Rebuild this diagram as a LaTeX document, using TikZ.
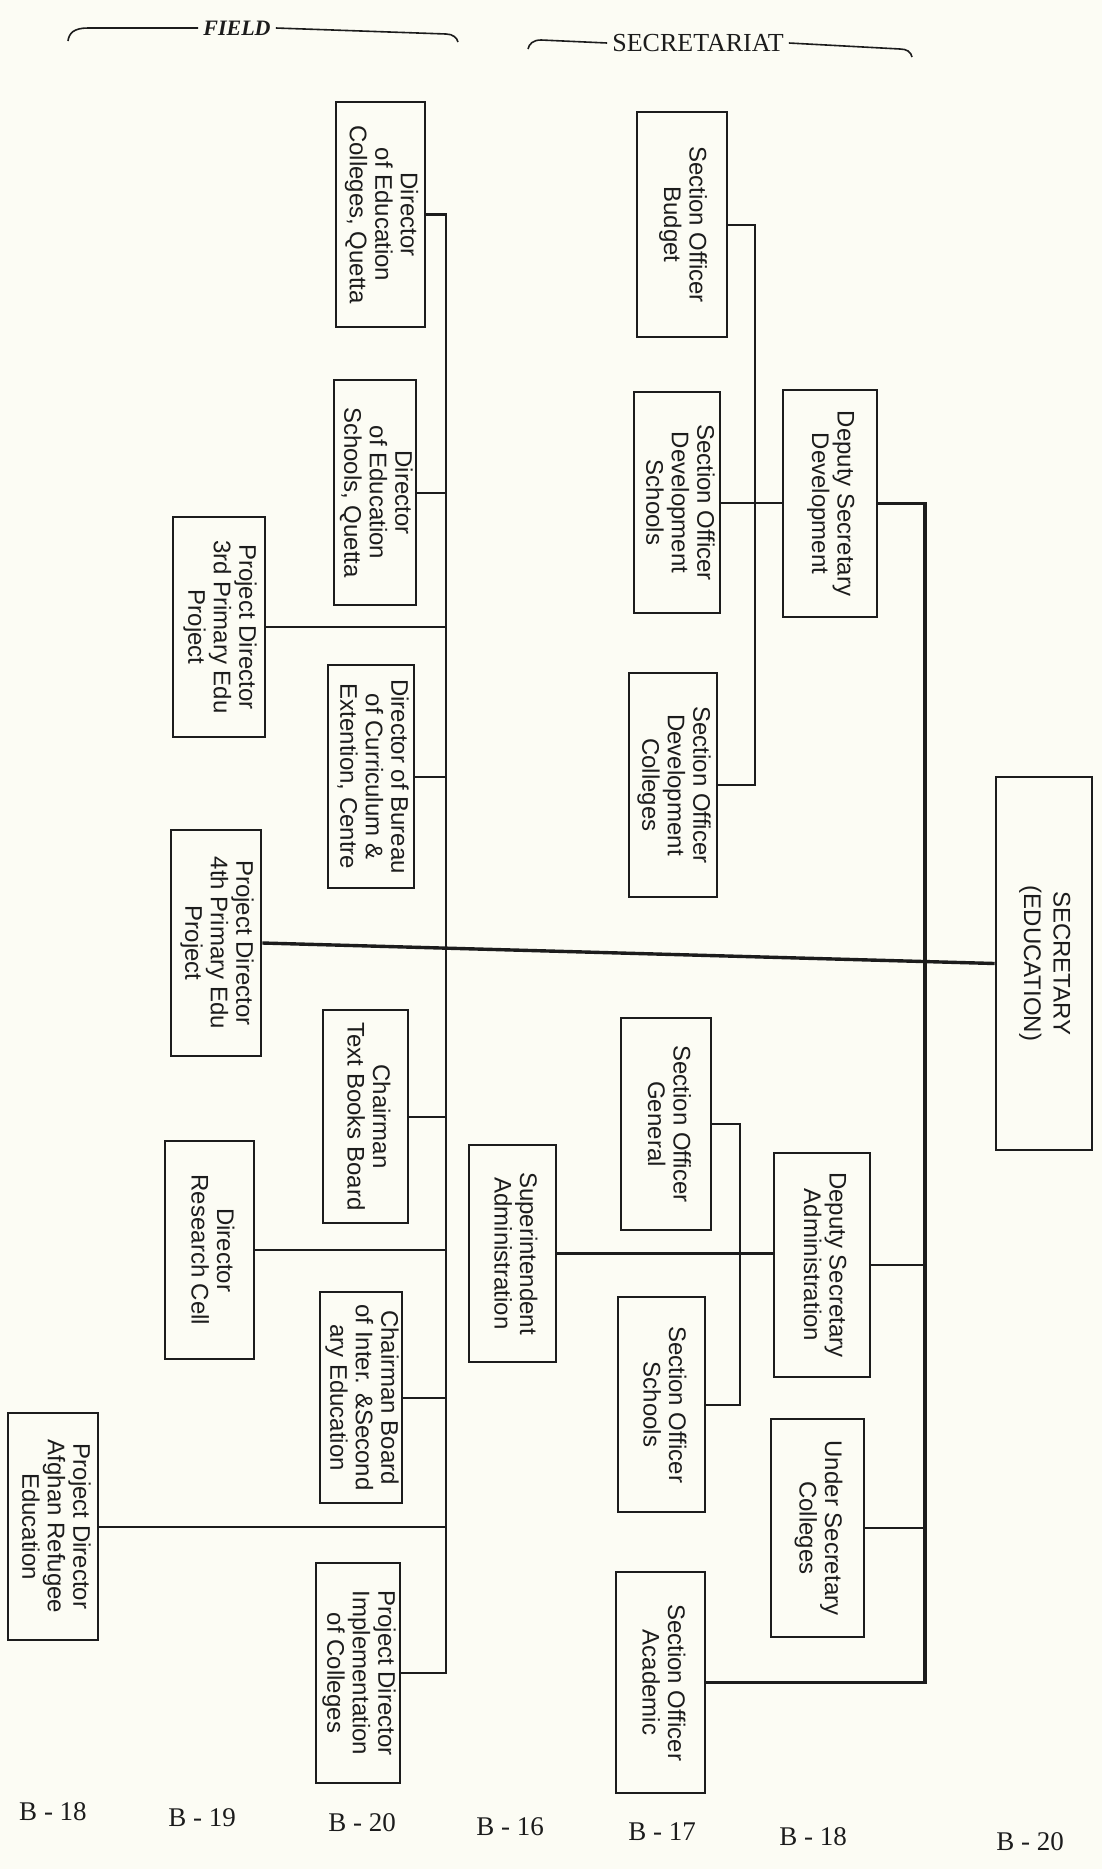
\documentclass[tikz,border=0pt]{standalone}
\usepackage{fontspec}
\setmainfont{Liberation Serif}
\setsansfont{Liberation Sans}
\usepackage{tikz}
\definecolor{paper}{RGB}{252,252,244}
\definecolor{ink}{RGB}{28,28,28}
\newcommand{\vtext}[1]{\rotatebox{-90}{\begin{tabular}{@{}c@{}}#1\end{tabular}}}

\begin{document}
\begin{tikzpicture}[x=1pt, y=-1pt,
  every node/.style={inner sep=0pt, text=ink},
  orgbox/.style 2 args={draw=ink, line width=2.6pt, fill=paper, minimum width=#1pt, minimum height=#2pt, font=\sffamily\fontsize{24}{25.5}\selectfont},
  link/.style={draw=ink, line width=2pt},
  spine/.style={draw=ink, line width=3.4pt},
  header/.style={inner xsep=5pt, font=\rmfamily\fontsize{26}{26}\selectfont},
  grade/.style={font=\rmfamily\fontsize{27}{27}\selectfont}]
  \useasboundingbox[fill=paper] (0,0) rectangle (1102,1869);

  \node[header, font=\rmfamily\bfseries\itshape\fontsize{22}{22}\selectfont] (fieldLbl) at (237,28) {FIELD};
  \node[header] (secrLbl) at (698,43) {SECRETARIAT};
  \draw[link, line width=1.6pt] (fieldLbl.west) -- (88,28) .. controls (74,28) and (69,33) .. (68,41);
  \draw[link, line width=1.6pt] (fieldLbl.east) -- (446,34) .. controls (453,34) and (457,38) .. (458,42);
  \draw[link, line width=1.6pt] (secrLbl.west) -- (541,40) .. controls (533,40) and (529,44) .. (528,49);
  \draw[link, line width=1.6pt] (secrLbl.east) -- (900,49) .. controls (907,49) and (911,52) .. (912,57);

  \node[orgbox={89}{225}] (dirColl) at (380.5,214.5) {\vtext{Director\\of Education\\Colleges, Quetta}};
  \node[orgbox={82}{225}] (dirSch) at (375,492.5) {\vtext{Director\\of Education\\Schools, Quetta}};
  \node[orgbox={86}{223}] (dirBur) at (371,776.5) {\vtext{Director of Bureau\\of Curriculum \&\\Extention, Centre}};
  \node[orgbox={92}{220}] (pdThird) at (219,627) {\vtext{Project Director\\3rd Primary Edu\\Project}};
  \node[orgbox={90}{226}] (pdFourth) at (216,943) {\vtext{Project Director\\4th Primary Edu\\Project}};
  \node[orgbox={85}{213}] (chText) at (365.5,1116.5) {\vtext{Chairman\\Text Books Board}};
  \node[orgbox={89}{218}] (dirRes) at (209.5,1250) {\vtext{Director\\Research Cell}};
  \node[orgbox={82}{211}] (chInter) at (361,1397.5) {\vtext{Chairman Board\\of Inter. \&Second\\ary Education}};
  \node[orgbox={90}{227}] (pdAfghan) at (53,1526.5) {\vtext{Project Director\\Afghan Refugee\\Education}};
  \node[orgbox={84}{220}] (pdImpl) at (358,1673) {\vtext{Project Director\\Implementation\\of Colleges}};

  \node[orgbox={90}{225}] (soBudget) at (682,224.5) {\vtext{Section Officer\\Budget}};
  \node[orgbox={86}{221}] (soDevSch) at (677,502.5) {\vtext{Section Officer\\Development\\Schools}};
  \node[orgbox={94}{227}] (dsDev) at (830,503.5) {\vtext{Deputy Secretary\\Development}};
  \node[orgbox={88}{224}] (soDevColl) at (673,785) {\vtext{Section Officer\\Development\\Colleges}};
  \node[orgbox={96}{373}] (secy) at (1044,963.5) {\vtext{SECRETARY\\[4pt](EDUCATION)}};
  \node[orgbox={90}{212}] (soGen) at (666,1124) {\vtext{Section Officer\\General}};
  \node[orgbox={87}{217}] (suptAdm) at (512.5,1253.5) {\vtext{Superintendent\\Administration}};
  \node[orgbox={96}{224}] (dsAdm) at (822,1265) {\vtext{Deputy Secretary\\Administration}};
  \node[orgbox={87}{215}] (soSch) at (661.5,1404.5) {\vtext{Section Officer\\Schools}};
  \node[orgbox={93}{218}] (usColl) at (817.5,1528) {\vtext{Under Secretary\\Colleges}};
  \node[orgbox={89}{221}] (soAcad) at (660.5,1682.5) {\vtext{Section Officer\\Academic}};

  \coordinate (fTop) at (446,214.5);
  \coordinate (fBot) at (446,1673);
  \coordinate (aTop) at (755,224.5);
  \coordinate (aBot) at (755,785);
  \coordinate (bTop) at (740,1124);
  \coordinate (bBot) at (740,1404.5);
  \coordinate (rTop) at (925,503.5);
  \coordinate (rBot) at (925,1682.5);

  \draw[spine, line width=2.8pt] (dirColl.east) -- (fTop) -- (fBot) -- (pdImpl.east);
  \foreach \n in {dirSch, dirBur, pdThird, chText, dirRes, chInter, pdAfghan}
    \draw[link] (\n.east) -- (\n.east -| fTop);
  \draw[link] (soBudget.east) -- (aTop) -- (aBot) -- (soDevColl.east);
  \draw[link] (soDevSch.east) -- (soDevSch.east -| dsDev.west);
  \draw[link] (soGen.east) -- (bTop) -- (bBot) -- (soSch.east);
  \draw[link, line width=2.4pt] (suptAdm.east) -- (suptAdm.east -| dsAdm.west);
  \draw[spine] (dsDev.east) -- (rTop) -- (rBot) -- (soAcad.east);
  \foreach \n in {dsAdm, usColl}
    \draw[link, line width=2.6pt] (\n.east) -- (\n.east -| rTop);
  \draw[spine] (pdFourth.east) -- (secy.west);

  \foreach \gx/\gy/\gr [count=\i] in {53/1812/18, 202/1818/19, 362/1823/20, 510/1827/16, 662/1832/17, 813/1837/18, 1030/1842/20}
    \node[grade] (grade\i) at (\gx,\gy) {B - \gr};
\end{tikzpicture}
\end{document}
